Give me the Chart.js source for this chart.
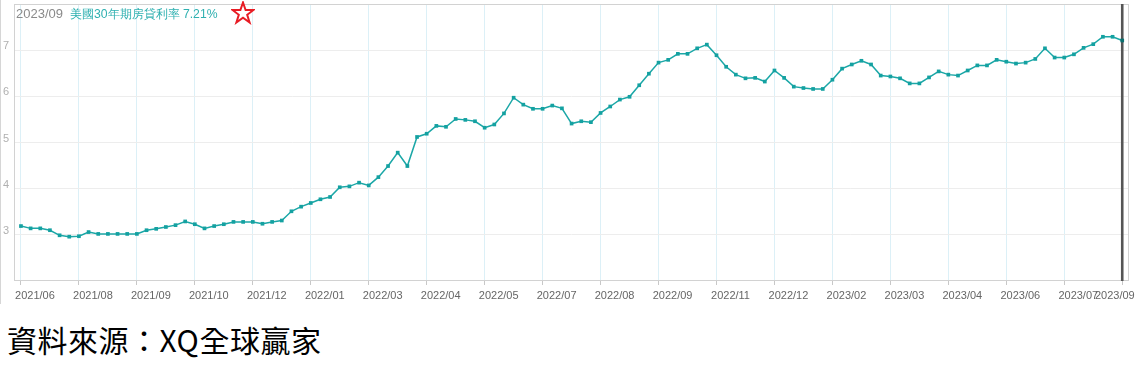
<!DOCTYPE html>
<html>
<head>
<meta charset="utf-8">
<script src="https://cdn.jsdelivr.net/npm/chart.js@4"></script>
<style>
  body { margin: 0; background: #fff; width: 1136px; height: 376px; overflow: hidden; position: relative; }
  #wrap { position: absolute; left: 0; top: 0; width: 1136px; height: 306px; }
  #edge { position: absolute; left: 0; top: 0; width: 1px; height: 304px; background: #d6d6d6; }
  #caption { position: absolute; left: 16px; top: 5px; font-family: "Liberation Sans", Arial, sans-serif; line-height: 16px; white-space: nowrap; }
  #caption .date { color: #8a8a8a; font-size: 13px; }
  #caption .name { color: #2eb0b0; font-size: 12.2px; margin-left: 7px; }
  #star { position: absolute; left: 231px; top: 1px; }
  #source { position: absolute; left: 7px; top: 320px; font: 400 30px "Noto Sans CJK TC", sans-serif; letter-spacing: 0.5px; color: #000; line-height: 38px; white-space: nowrap; }
</style>
</head>
<body>
<div id="wrap"><canvas id="rateChart" width="1136" height="306"></canvas></div>
<div id="edge"></div>
<div id="caption"><span class="date"></span><span class="name"></span></div>
<svg id="star" width="24" height="24" viewBox="0 0 24 24">
  <polygon points="12,1.5 14.6,9 22.5,9 16.2,13.8 18.6,21.5 12,16.8 5.4,21.5 7.8,13.8 1.5,9 9.4,9"
    fill="#fff" stroke="#e81c24" stroke-width="2" stroke-linejoin="miter"/>
</svg>
<div id="source">資料來源：XQ全球贏家</div>

<script>
// weekly 30-year mortgage rate (2021/06 .. 2023/09)
const rateValues = [
  3.19, 3.14, 3.14, 3.10, 2.99, 2.96, 2.97, 3.06, 3.02, 3.02,
  3.02, 3.02, 3.02, 3.10, 3.13, 3.17, 3.21, 3.29, 3.23, 3.14,
  3.19, 3.23, 3.28, 3.28, 3.28, 3.24, 3.28, 3.31, 3.51, 3.61,
  3.69, 3.77, 3.82, 4.03, 4.05, 4.13, 4.07, 4.25, 4.49, 4.78,
  4.49, 5.12, 5.19, 5.36, 5.34, 5.51, 5.49, 5.46, 5.32, 5.39,
  5.63, 5.97, 5.82, 5.73, 5.73, 5.80, 5.74, 5.41, 5.46, 5.44,
  5.64, 5.78, 5.93, 5.99, 6.24, 6.49, 6.73, 6.79, 6.92, 6.92,
  7.04, 7.12, 6.89, 6.64, 6.47, 6.39, 6.40, 6.32, 6.56, 6.40,
  6.21, 6.18, 6.16, 6.16, 6.36, 6.60, 6.69, 6.77, 6.69, 6.45,
  6.43, 6.39, 6.28, 6.28, 6.41, 6.54, 6.47, 6.45, 6.56, 6.67,
  6.67, 6.79, 6.75, 6.71, 6.73, 6.81, 7.04, 6.84, 6.84, 6.91,
  7.05, 7.13, 7.29, 7.29, 7.21
];

// one label every 6 weeks
const tickLabels = [
  '2021/06', '2021/08', '2021/09', '2021/10', '2021/12', '2022/01', '2022/03',
  '2022/04', '2022/05', '2022/07', '2022/08', '2022/09', '2022/11', '2022/12',
  '2023/02', '2023/03', '2023/04', '2023/06', '2023/07', '2023/09'
];
const tickStep = 6;

const seriesName = '美國30年期房貸利率';
const lastPeriod = tickLabels[tickLabels.length - 1];

const lastIdx = rateValues.length - 1;
document.querySelector('#caption .date').textContent = lastPeriod;
document.querySelector('#caption .name').textContent = seriesName + ' ' + rateValues[lastIdx].toFixed(2) + '%';

// plot frame + the crosshair on the latest week
const framePlugin = {
  id: 'frame',
  beforeDatasetsDraw(chart) {
    const { ctx, chartArea: a, scales } = chart;
    ctx.save();
    ctx.strokeStyle = '#d2d2d2';
    ctx.lineWidth = 1;
    ctx.strokeRect(a.left + 0.5, a.top + 0.5, a.width - 1, a.height - 1);
    const x = scales.x.getPixelForValue(lastIdx);
    ctx.strokeStyle = '#555';
    ctx.lineWidth = 2.6;
    ctx.beginPath();
    ctx.moveTo(x, a.top);
    ctx.lineTo(x, a.bottom);
    ctx.stroke();
    ctx.restore();
  }
};

new Chart(document.getElementById('rateChart'), {
  type: 'line',
  data: {
    datasets: [{
      label: seriesName,
      data: rateValues.map((v, i) => ({ x: i, y: v })),
      borderColor: '#1ba7a7',
      borderWidth: 1.5,
      pointStyle: 'rect',
      pointRadius: 2.6,
      pointBorderWidth: 0,
      pointBackgroundColor: (c) => (c.dataIndex === lastIdx ? '#0b6f6f' : '#14a1a1'),
      tension: 0,
    }],
  },
  options: {
    responsive: false,
    animation: false,
    events: [],
    layout: { padding: { left: 0, right: 7, top: 4, bottom: 0 } },
    plugins: {
      legend: { display: false },
      tooltip: { enabled: false },
    },
    scales: {
      x: {
        type: 'linear',
        min: -0.72,
        max: 114.7,
        afterBuildTicks(axis) {
          axis.ticks = tickLabels.map((_, k) => ({ value: k * tickStep }));
        },
        afterFit(axis) {
          axis.height = 25;
          axis.paddingLeft = 0;
          axis.paddingRight = 0;
        },
        border: { display: false },
        grid: { color: '#dcf0f7', tickColor: '#c8c8c8', tickLength: 4 },
        ticks: {
          autoSkip: false,
          maxRotation: 0,
          minRotation: 0,
          labelOffset: 14,
          padding: 4,
          color: '#666',
          font: { family: '"Liberation Sans", Arial, sans-serif', size: 11 },
          callback(value) {
            const k = Math.round(value / tickStep);
            const t = tickLabels[k];
            // last label is pulled back inside the canvas, as in the original
            return k === tickLabels.length - 1 ? t + '\u00a0'.repeat(14) : t;
          },
        },
      },
      y: {
        min: 2,
        max: 8,
        afterFit(axis) {
          axis.width = 14;
          axis.paddingTop = 0;
          axis.paddingBottom = 0;
        },
        border: { display: false },
        grid: { color: '#ededed', drawTicks: false },
        ticks: {
          stepSize: 1,
          padding: 5,
          labelOffset: -4,
          color: '#b0b0b0',
          font: { family: '"Liberation Sans", Arial, sans-serif', size: 11 },
          callback: (v) => (v === 2 || v === 8 ? null : v),
        },
      },
    },
  },
  plugins: [framePlugin],
});
</script>
</body>
</html>
